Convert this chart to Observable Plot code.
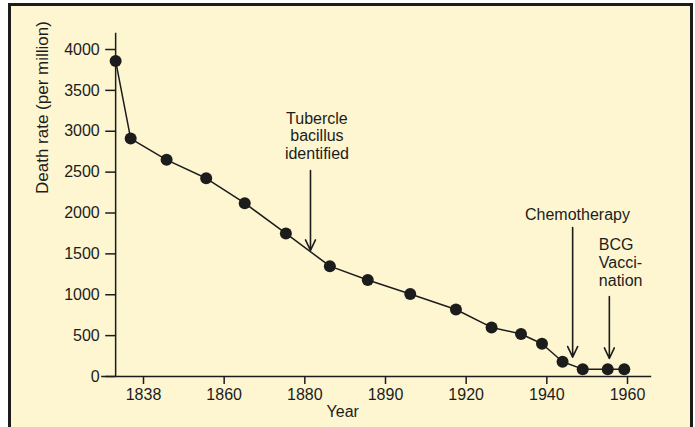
<!DOCTYPE html>
<html><head><meta charset="utf-8">
<script src="https://cdn.jsdelivr.net/npm/d3@7"></script>
<script src="https://cdn.jsdelivr.net/npm/@observablehq/plot@0.6"></script>
<style>
html,body{margin:0;padding:0;background:#fff;width:695px;height:427px;overflow:hidden}
#panel{position:absolute;left:8px;top:3px;width:679px;height:440px;border:3px solid #1c1c1c;border-bottom:none;background:#fdf6d1}
#chart{position:absolute;left:0;top:0}
</style></head><body>
<div id="panel"></div><div id="chart"></div>
<script>
// Data
const years = [1830.4, 1834.5, 1844.3, 1855.1, 1865.1, 1875.3, 1883.1, 1887.8, 1899.2, 1916.2, 1926.3, 1933.6, 1938.8, 1943.9, 1948.9, 1955.1, 1959.2];
const deathRates = [3860, 2910, 2650, 2425, 2120, 1750, 1350, 1180, 1010, 820, 600, 520, 400, 180, 90, 90, 90];
const xTickLabels = [1838, 1860, 1880, 1890, 1920, 1940, 1960];
const yTicks = [0, 500, 1000, 1500, 2000, 2500, 3000, 3500, 4000];
const eventLabels = ["Tubercle\nbacillus\nidentified", "Chemotherapy", "BCG\nVacci-\nnation"];
const eventLabelYears = [1881.5, 1947.6, 1952.9];
const eventLabelValues = [2947, 1981, 1398];
const eventAnchors = ["middle", "middle", "start"];
const arrowYears = [1880.7, 1946.4, 1955.5];
const arrowTops = [2519, 1822, 978];
const arrowTips = [1541, 236, 220];

const points = years.map((y, i) => ({year: y, rate: deathRates[i]}));
const labels = eventLabels.map((t, i) => ({text: t, year: eventLabelYears[i], value: eventLabelValues[i], anchor: eventAnchors[i]}));
const arrows = arrowYears.map((y, i) => ({year: y, top: arrowTops[i], tip: arrowTips[i]}));

const yAxisYear = 1830.4;
const yTickStartYear = 1827.7;
const xAxisStart = 1826.6;
const xAxisEnd = 1966;
const ink = "#1c1c1c";

const chart = Plot.plot({
  width: 695, height: 427,
  marginLeft: 143, marginRight: 68, marginTop: 49, marginBottom: 51,
  style: {background: "transparent", fontFamily: "'Liberation Sans', Arial, sans-serif", fontSize: "16px", color: ink, overflow: "visible"},
  x: {type: "linear", domain: xTickLabels, axis: null},
  y: {domain: [0, 4000], axis: null},
  marks: [
    Plot.ruleY([0], {x1: xAxisStart, x2: xAxisEnd, stroke: ink, strokeWidth: 1.5}),
    Plot.ruleX([yAxisYear], {y1: 0, y2: 4200, stroke: ink, strokeWidth: 1.5}),
    Plot.ruleY(yTicks, {y: d => d, x1: yTickStartYear, x2: yAxisYear, stroke: ink, strokeWidth: 1.5}),
    Plot.text(yTicks, {y: d => d, x: yTickStartYear, text: d => String(d), textAnchor: "end", dx: -6, fill: ink, fontSize: 16}),
    Plot.axisX({ticks: xTickLabels, tickFormat: "d", tickSize: 8, tickPadding: 4, label: null, stroke: ink, strokeWidth: 1.5, fill: ink, fontSize: 16}),
    Plot.text(["Year"], {x: 1884.7, frameAnchor: "bottom", dy: 40, fill: ink, fontSize: 16}),
    Plot.text(["Death rate (per million)"], {frameAnchor: "left", rotate: -90, dx: -101, dy: -19, fill: ink, fontSize: 17}),
    Plot.line(points, {x: "year", y: "rate", stroke: ink, strokeWidth: 1.5}),
    Plot.dot(points, {x: "year", y: "rate", r: 6, fill: ink, stroke: "none"}),
    Plot.arrow(arrows, {x1: "year", x2: "year", y1: "top", y2: "tip", stroke: ink, strokeWidth: 1.6, headLength: 11, headAngle: 50}),
    Plot.text(labels.filter(d => d.anchor === "middle"), {x: "year", y: "value", text: "text", textAnchor: "middle", lineHeight: 1.1, fill: ink, fontSize: 16}),
    Plot.text(labels.filter(d => d.anchor === "start"), {x: "year", y: "value", text: "text", textAnchor: "start", lineHeight: 1.15, fill: ink, fontSize: 16})
  ]
});
document.getElementById("chart").appendChild(chart);
</script>
</body></html>
